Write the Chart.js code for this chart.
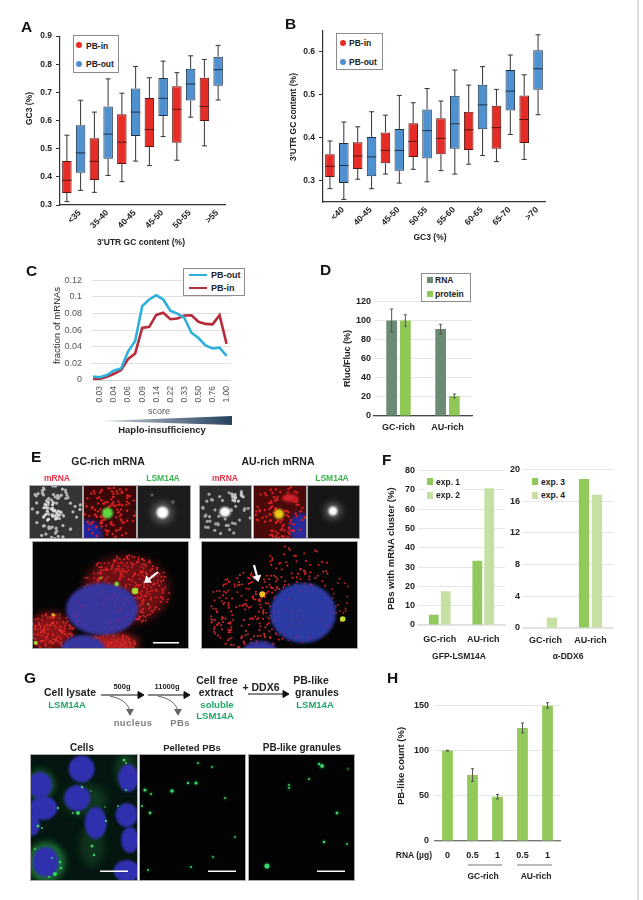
<!DOCTYPE html>
<html>
<head>
<meta charset="utf-8">
<title>Figure panels</title>
<script src="https://cdn.jsdelivr.net/npm/chart.js@4"></script>
<style>
  html, body { margin: 0; padding: 0; background: #fff; }
  #page { position: relative; width: 643px; height: 900px; overflow: hidden; font-family: "Liberation Sans", Arial, sans-serif; filter: blur(0.3px); }
  #page canvas, #page svg, .txt, .box { position: absolute; }
  .txt { white-space: nowrap; line-height: 1; }
  .box { box-sizing: border-box; }
</style>
</head>
<body>
<div id="page">
  <canvas id="micro" width="643" height="900" style="left:0;top:0"></canvas>
</div>
<script>
// panel A: [low whisker, q1, median, q3, high whisker]
const catsA = ['<35', '35-40', '40-45', '45-50', '50-55', '>55']
const inA = [
  [0.312, 0.343, 0.388, 0.456, 0.548],
  [0.345, 0.389, 0.455, 0.537, 0.630],
  [0.383, 0.446, 0.523, 0.622, 0.697],
  [0.440, 0.506, 0.568, 0.680, 0.752],
  [0.459, 0.521, 0.640, 0.722, 0.770],
  [0.510, 0.598, 0.650, 0.752, 0.817]
]
const outA = [
  [0.352, 0.415, 0.485, 0.583, 0.672],
  [0.405, 0.464, 0.552, 0.650, 0.748],
  [0.456, 0.545, 0.630, 0.714, 0.792],
  [0.543, 0.616, 0.679, 0.751, 0.811],
  [0.612, 0.671, 0.730, 0.784, 0.830],
  [0.673, 0.724, 0.781, 0.827, 0.867]
]
const ticksA = [0.3, 0.4, 0.5, 0.6, 0.7, 0.8, 0.9]

// panel B
const catsB = ['<40', '40-45', '45-50', '50-55', '55-60', '60-65', '65-70', '>70']
const inB = [
  [0.281, 0.308, 0.333, 0.361, 0.392],
  [0.303, 0.327, 0.357, 0.389, 0.425],
  [0.315, 0.340, 0.370, 0.412, 0.452],
  [0.326, 0.355, 0.391, 0.433, 0.481],
  [0.323, 0.361, 0.398, 0.445, 0.485],
  [0.338, 0.371, 0.418, 0.460, 0.522],
  [0.344, 0.374, 0.423, 0.474, 0.512],
  [0.349, 0.387, 0.442, 0.498, 0.546]
]
const outB = [
  [0.256, 0.294, 0.335, 0.387, 0.436],
  [0.281, 0.310, 0.355, 0.401, 0.460],
  [0.294, 0.323, 0.370, 0.420, 0.498],
  [0.297, 0.351, 0.416, 0.465, 0.514],
  [0.315, 0.374, 0.432, 0.497, 0.557],
  [0.358, 0.419, 0.476, 0.523, 0.565],
  [0.407, 0.463, 0.508, 0.557, 0.592],
  [0.453, 0.511, 0.560, 0.603, 0.639]
]
const ticksB = [0.3, 0.4, 0.5, 0.6]

// panel C: only every second point carries a label
const scoreLabels = ['', '0.03', '', '0.04', '', '0.06', '', '0.09', '', '0.14', '', '0.22', '', '0.33', '', '0.50', '', '0.76', '', '1.00']
const pbOutC = [0.0041, 0.0033, 0.006, 0.0115, 0.014, 0.0345, 0.047, 0.089, 0.097, 0.102, 0.097, 0.0836, 0.08, 0.0747, 0.057, 0.0505, 0.0416, 0.038, 0.039, 0.029]
const pbInC = [0.0015, 0.0015, 0.004, 0.0075, 0.012, 0.0253, 0.032, 0.0628, 0.064, 0.0784, 0.081, 0.0732, 0.074, 0.0777, 0.078, 0.0702, 0.0676, 0.067, 0.078, 0.0435]
const ticksC = [0, 0.02, 0.04, 0.06, 0.08, 0.1, 0.12]

// panel D
const catsD = ['GC-rich', 'AU-rich']
const rnaD = [100, 91]
const rnaErrD = [12, 5]
const proteinD = [100, 21]
const proteinErrD = [6, 2]

// panel F
const catsF = ['GC-rich', 'AU-rich']
const exp1 = [5.3, 33.3]
const exp2 = [17.5, 70.7]
const exp3 = [null, 18.8]
const exp4 = [1.3, 16.8]

// panel H
const catsH = ['0', '0.5', '1', '0.5', '1']
const countH = [100, 73, 49, 125, 150]
const countErrH = [0.5, 7, 2.5, 5.5, 3]

const RED = '#e52c26'
const BLUE = '#4f90cf'
const DARK = '#222'
const GREEN = '#20a868'
const page = document.getElementById('page')

Chart.defaults.animation = false
Chart.defaults.responsive = false
Chart.defaults.font.family = '"Liberation Sans", Arial, sans-serif'
Chart.defaults.plugins.legend.display = false
Chart.defaults.plugins.tooltip.enabled = false

function text(str, x, y, opts = {}) {
  const el = document.createElement('div')
  el.className = 'txt'
  el.textContent = str
  el.style.left = x + 'px'
  el.style.top = y + 'px'
  el.style.fontSize = (opts.size || 9) + 'px'
  el.style.fontWeight = opts.weight || 'bold'
  el.style.color = opts.color || DARK
  if (opts.spacing) el.style.letterSpacing = opts.spacing + 'px'
  const shiftX = opts.align === 'left' ? '0' : opts.align === 'right' ? '-100%' : '-50%'
  el.style.transform = `translate(${shiftX}, -50%)`
  page.appendChild(el)
  // vertical axis titles read bottom to top, snapped to whole pixels
  if (opts.vertical) {
    el.style.writingMode = 'vertical-rl'
    el.style.transform = 'rotate(180deg)'
    const box = el.getBoundingClientRect()
    const w = Math.ceil(box.width)
    const h = Math.ceil(box.height)
    el.style.width = w + 'px'
    el.style.height = h + 'px'
    el.style.left = Math.round(x - w / 2) + 'px'
    el.style.top = Math.round(y - h / 2) + 'px'
  }
}

function rect(x, y, w, h, css) {
  const el = document.createElement('div')
  el.className = 'box'
  el.style.cssText = `left:${x}px;top:${y}px;width:${w}px;height:${h}px;${css}`
  page.appendChild(el)
  return el
}

// canvas sized so the plot area lands on the given box
function panel(area, config) {
  const padTop = 8
  const padRight = 7
  const canvas = document.createElement('canvas')
  canvas.width = area.r - area.l + area.yw + padRight
  canvas.height = area.b - area.t + padTop + area.xh
  canvas.style.left = (area.l - area.yw) + 'px'
  canvas.style.top = (area.t - padTop) + 'px'
  page.appendChild(canvas)
  config.options.layout = { padding: { top: padTop, right: padRight } }
  config.options.scales.x.afterFit = s => { s.height = area.xh }
  config.options.scales.y.afterFit = s => { s.width = area.yw }
  return new Chart(canvas, config)
}

const whiskers = {
  id: 'whiskers',
  afterDatasetsDraw(chart) {
    const { ctx, scales: { y } } = chart
    chart.data.datasets.forEach((ds, di) => {
      chart.getDatasetMeta(di).data.forEach((bar, i) => {
        const [low, q1, med, q3, high] = ds.stats[i]
        const half = bar.width / 2
        ctx.save()
        ctx.strokeStyle = '#333'
        ctx.lineWidth = 1
        ctx.beginPath()
        ctx.moveTo(bar.x, y.getPixelForValue(q3))
        ctx.lineTo(bar.x, y.getPixelForValue(high))
        ctx.moveTo(bar.x - 2.5, y.getPixelForValue(high))
        ctx.lineTo(bar.x + 2.5, y.getPixelForValue(high))
        ctx.moveTo(bar.x, y.getPixelForValue(q1))
        ctx.lineTo(bar.x, y.getPixelForValue(low))
        ctx.moveTo(bar.x - 2.5, y.getPixelForValue(low))
        ctx.lineTo(bar.x + 2.5, y.getPixelForValue(low))
        ctx.stroke()
        ctx.strokeStyle = ds.borderColor
        ctx.beginPath()
        ctx.moveTo(bar.x - half, y.getPixelForValue(med))
        ctx.lineTo(bar.x + half, y.getPixelForValue(med))
        ctx.stroke()
        ctx.restore()
      })
    })
  }
}

const errorBars = {
  id: 'errorBars',
  afterDatasetsDraw(chart) {
    const { ctx, scales: { y } } = chart
    chart.data.datasets.forEach((ds, di) => {
      if (!ds.errors) return
      chart.getDatasetMeta(di).data.forEach((bar, i) => {
        const top = y.getPixelForValue(ds.data[i] + ds.errors[i])
        const bottom = y.getPixelForValue(ds.data[i] - ds.errors[i])
        ctx.save()
        ctx.strokeStyle = '#555'
        ctx.lineWidth = 1
        ctx.beginPath()
        ctx.moveTo(bar.x, top)
        ctx.lineTo(bar.x, bottom)
        ctx.moveTo(bar.x - 1.5, top)
        ctx.lineTo(bar.x + 1.5, top)
        ctx.moveTo(bar.x - 1.5, bottom)
        ctx.lineTo(bar.x + 1.5, bottom)
        ctx.stroke()
        ctx.restore()
      })
    })
  }
}

function boxDataset(label, stats, color, border) {
  return {
    label, stats,
    data: stats.map(s => [s[1], s[3]]),
    backgroundColor: color,
    borderColor: border,
    borderWidth: 1,
    borderSkipped: false,
    categoryPercentage: 1,
    barPercentage: 0.69
  }
}

function boxChart(area, cats, inStats, outStats, yMin, yMax, yTicks, labelOffset) {
  return panel(area, {
    type: 'bar',
    data: {
      labels: cats,
      datasets: [boxDataset('PB-in', inStats, RED, '#5a1510'), boxDataset('PB-out', outStats, BLUE, '#1c3248')]
    },
    plugins: [whiskers],
    options: {
      scales: {
        x: {
          grid: { display: false, drawTicks: false },
          border: { color: '#333', width: 1.2 },
          ticks: { minRotation: 45, maxRotation: 45, autoSkip: false, padding: 3, labelOffset, color: DARK, font: { size: 8.5, weight: 'bold' } }
        },
        y: {
          min: yMin, max: yMax,
          afterBuildTicks: s => { s.ticks = yTicks.map(value => ({ value })) },
          grid: { drawOnChartArea: false, tickLength: 4, color: '#333' },
          border: { color: '#333', width: 1.2 },
          ticks: { padding: 4, color: DARK, font: { size: 8.5, weight: 'bold' }, callback: v => v.toFixed(1) }
        }
      }
    }
  })
}

function barDataset(label, data, color, catPct, barPct, errors) {
  return { label, data, errors, backgroundColor: color, categoryPercentage: catPct, barPercentage: barPct }
}

function barChart(area, cats, datasets, yMax, yTicks, yPad, xPad, axisColor) {
  return panel(area, {
    type: 'bar',
    data: { labels: cats, datasets },
    plugins: [errorBars],
    options: {
      scales: {
        x: {
          grid: { display: false, drawTicks: false },
          border: { color: axisColor, width: 1.2 },
          ticks: { padding: xPad, maxRotation: 0, autoSkip: false, color: DARK, font: { size: 9, weight: 'bold' } }
        },
        y: {
          min: 0, max: yMax,
          afterBuildTicks: s => { s.ticks = yTicks.map(value => ({ value })) },
          grid: { color: '#e6e6e6', drawTicks: false },
          border: { display: false },
          ticks: { padding: yPad, color: DARK, font: { size: 9, weight: 'bold' } }
        }
      }
    }
  })
}

// ---- A
boxChart({ l: 60, r: 225, t: 35, b: 205, yw: 24, xh: 28 }, catsA, inA, outA, 0.3, 0.9, ticksA, 6)
text('GC3 (%)', 29, 108, { size: 8.5, vertical: true })
text("3'UTR GC content (%)", 141, 242, { size: 8.5 })
rect(73, 35, 46, 38, 'border:1px solid #8c8c8c;background:#fff')
rect(76, 42, 6, 6, `background:${RED};border-radius:50%`)
rect(76, 61, 6, 6, `background:${BLUE};border-radius:50%`)
text('PB-in', 86, 45.5, { align: 'left', size: 8.5 })
text('PB-out', 86, 64, { align: 'left', size: 8.5 })

// ---- B
boxChart({ l: 323, r: 545, t: 29, b: 202, yw: 24, xh: 26 }, catsB, inB, outB, 0.25, 0.65, ticksB, 6)
text("3'UTR GC content (%)", 293, 117, { size: 8.5, vertical: true })
text('GC3 (%)', 430, 237, { size: 8.5 })
rect(336, 33, 47, 37, 'border:1px solid #8c8c8c;background:#fff')
rect(340, 40, 6, 6, `background:${RED};border-radius:50%`)
rect(340, 59, 6, 6, `background:${BLUE};border-radius:50%`)
text('PB-in', 349, 43, { align: 'left', size: 8.5 })
text('PB-out', 349, 62, { align: 'left', size: 8.5 })

// ---- C
panel({ l: 92, r: 236, t: 273, b: 380, yw: 32, xh: 24 }, {
  type: 'line',
  data: {
    datasets: [
      { label: 'PB-out', data: pbOutC.map((y, x) => ({ x, y })), borderColor: '#2db0dc', borderWidth: 2.6, pointRadius: 0 },
      { label: 'PB-in', data: pbInC.map((y, x) => ({ x, y })), borderColor: '#b62c3a', borderWidth: 2.6, pointRadius: 0 }
    ]
  },
  options: {
    scales: {
      x: {
        type: 'linear', min: -0.14, max: 19.59,
        afterBuildTicks: s => { s.ticks = scoreLabels.map((l, value) => ({ value, l })).filter(t => t.l).map(t => ({ value: t.value })) },
        grid: { display: false, drawTicks: false },
        border: { color: '#d0d0d0' },
        ticks: { minRotation: 90, maxRotation: 90, autoSkip: false, padding: 6, color: '#555', font: { size: 8.5 }, callback: v => scoreLabels[v] }
      },
      y: {
        min: 0, max: 0.12,
        afterBuildTicks: s => { s.ticks = ticksC.map(value => ({ value })) },
        grid: { color: '#dfdfdf', drawTicks: false },
        border: { display: false },
        ticks: { padding: 10, color: '#555', font: { size: 9 }, callback: v => String(v) }
      }
    }
  }
})
text('fraction of mRNAs', 57, 325, { size: 9.5, weight: 'normal', color: '#222', vertical: true })
text('score', 159, 411, { size: 9, weight: 'normal', color: '#555' })
rect(101, 416, 131, 9, 'background:linear-gradient(90deg,#c9d0d8,#26415c);clip-path:polygon(0 55%,100% 0,100% 100%)')
text('Haplo-insufficiency', 162, 430, { size: 9.5 })
rect(183, 268, 62, 28, 'border:1px solid #8c8c8c;background:#fff')
rect(189, 274, 18, 2.4, 'background:#2db0dc')
rect(189, 287, 18, 2.4, 'background:#b62c3a')
text('PB-out', 211, 275, { align: 'left', size: 9 })
text('PB-in', 211, 288, { align: 'left', size: 9 })

// ---- D
barChart({ l: 374, r: 472, t: 301, b: 416, yw: 24, xh: 20 }, catsD, [
  barDataset('RNA', rnaD, '#6c8b75', 0.56, 0.78, rnaErrD),
  barDataset('protein', proteinD, '#8fc856', 0.56, 0.78, proteinErrD)
], 120, [0, 20, 40, 60, 80, 100, 120], 3, 6, '#444')
text('Rluc/Fluc (%)', 347, 358, { size: 9, vertical: true })
rect(421, 273, 50, 29, 'border:1px solid #8c8c8c;background:#fff')
rect(427, 277, 6, 6, 'background:#6c8b75')
rect(427, 291, 6, 6, 'background:#8fc856')
text('RNA', 435, 280, { align: 'left', size: 8.5 })
text('protein', 435, 294, { align: 'left', size: 8.5 })

// ---- E labels
text('GC-rich mRNA', 108, 461, { size: 10.5 })
text('AU-rich mRNA', 278, 461, { size: 10.5 })
text('mRNA', 57, 478, { size: 8.5, color: '#e8324a' })
text('LSM14A', 163, 478, { size: 8.5, color: '#3ab54a' })
text('mRNA', 225, 478, { size: 8.5, color: '#e8324a' })
text('LSM14A', 332, 478, { size: 8.5, color: '#3ab54a' })

// ---- F
barChart({ l: 418, r: 505, t: 470, b: 625, yw: 24, xh: 22 }, catsF, [
  barDataset('exp. 1', exp1, '#92c95c', 0.547, 0.82),
  barDataset('exp. 2', exp2, '#c6dfa2', 0.547, 0.82)
], 80, [0, 10, 20, 30, 40, 50, 60, 70, 80], 3, 9, '#e0e0e0')
barChart({ l: 523, r: 613, t: 469, b: 628, yw: 24, xh: 20 }, catsF, [
  barDataset('exp. 3', exp3, '#92c95c', 0.573, 0.8),
  barDataset('exp. 4', exp4, '#c6dfa2', 0.573, 0.8)
], 20, [0, 4, 8, 12, 16, 20], 3, 7, '#e0e0e0')
text('PBs with mRNA cluster (%)', 391, 548, { size: 9.5, vertical: true })
rect(426, 476, 38, 24, 'background:#fff')
rect(427, 478, 6, 6.5, 'background:#92c95c')
rect(427, 492, 6, 6.5, 'background:#c6dfa2')
text('exp. 1', 436, 482, { align: 'left', size: 8.5 })
text('exp. 2', 436, 495, { align: 'left', size: 8.5 })
rect(531, 476, 38, 24, 'background:#fff')
rect(532, 478, 6, 6.5, 'background:#92c95c')
rect(532, 492, 6, 6.5, 'background:#c6dfa2')
text('exp. 3', 541, 482, { align: 'left', size: 8.5 })
text('exp. 4', 541, 495, { align: 'left', size: 8.5 })
text('GFP-LSM14A', 459, 656, { size: 8.5 })
text('\u03b1-DDX6', 568, 656, { size: 8.5 })

// ---- G flow diagram
const flow = [
  ['Cell lysate', 70, 692, DARK], ['LSM14A', 67, 705, GREEN],
  ['Cell free', 217, 680, DARK], ['extract', 216, 692, DARK], ['soluble', 217, 705, GREEN], ['LSM14A', 215, 716, GREEN],
  ['PB-like', 311, 680, DARK], ['granules', 317, 692, DARK], ['LSM14A', 315, 705, GREEN]
]
flow.forEach(([s, x, y, color]) => text(s, x, y, { size: color === DARK ? 10.5 : 9.5, color }))
text('500g', 122, 687, { size: 7.5 })
text('11000g', 167, 687, { size: 7.5 })
text('+ DDX6', 261, 687, { size: 10.5 })
text('nucleus', 133, 723, { size: 9.5, color: '#808080', spacing: 0.4 })
text('PBs', 180, 723, { size: 9.5, color: '#808080', spacing: 0.4 })
text('Cells', 82, 748, { size: 10 })
text('Pelleted PBs', 192, 748, { size: 9.5 })
text('PB-like granules', 302, 748, { size: 10 })

page.insertAdjacentHTML('beforeend', `
<svg width="643" height="900" style="left:0;top:0;pointer-events:none">
  <g stroke="#111" stroke-width="1" fill="#111">
    <path d="M101 695H138"/><path d="M138 691.5L144 695L138 698.5Z"/>
    <path d="M148 695H184"/><path d="M184 691.5L190 695L184 698.5Z"/>
    <path d="M248 694H283"/><path d="M283 690.5L289 694L283 697.5Z"/>
  </g>
  <g stroke="#666" stroke-width="1" fill="none">
    <path d="M110 696Q126 699 130 710"/><path d="M158 696Q174 699 178 710"/>
  </g>
  <g fill="#666"><path d="M126 709L134 709L130 716Z"/><path d="M174 709L182 709L178 716Z"/></g>
  <g stroke="#777" stroke-width="1.2"><path d="M468 865H502"/><path d="M517 865H552"/></g>
  <path d="M638 0V900" stroke="#bdbdbd" stroke-width="1"/>
</svg>`)

// ---- H
barChart({ l: 435, r: 560, t: 702, b: 841, yw: 30, xh: 20 }, catsH, [
  barDataset('PB-like count', countH, '#93c95a', 1, 0.43, countErrH)
], 150, [0, 50, 100, 150], 6, 9, '#777')
text('PB-like count (%)', 401, 765, { size: 9.5, vertical: true })
text('RNA (\u00b5g)', 432, 855, { align: 'right', size: 8.5 })
text('GC-rich', 483, 876, { size: 8.5 })
text('AU-rich', 536, 876, { size: 8.5 })

// ---- panel letters
const letters = [['A', 21, 27], ['B', 285, 24], ['C', 26, 271], ['D', 320, 270], ['E', 31, 457], ['F', 382, 460], ['G', 24, 678], ['H', 387, 678]]
letters.forEach(([s, x, y]) => text(s, x, y, { size: 15.5, align: 'left', color: '#111' }))

// ---- microscopy photos, only a rough texture behind the charts
const mc = document.getElementById('micro').getContext('2d')
let seed = 4711
const noise = () => (seed = (seed * 16807) % 2147483647) / 2147483647

function blob(x, y, rx, ry, color) {
  mc.save()
  mc.fillStyle = color
  mc.beginPath()
  mc.ellipse(x, y, rx, ry, 0, 0, Math.PI * 2)
  mc.fill()
  mc.restore()
}

function speckle(x, y, rx, ry, n, color, r) {
  for (let i = 0; i < n; i++) {
    const a = noise() * Math.PI * 2
    const d = Math.sqrt(noise())
    blob(x + Math.cos(a) * d * rx, y + Math.sin(a) * d * ry, r, r, color)
  }
}

function photo(x, y, w, h, bg, paint) {
  mc.save()
  mc.beginPath()
  mc.rect(x, y, w, h)
  mc.clip()
  mc.fillStyle = bg
  mc.fillRect(x, y, w, h)
  mc.filter = 'blur(0.7px)'
  paint()
  mc.restore()
  mc.strokeStyle = '#aaa'
  mc.strokeRect(x - 0.5, y - 0.5, w + 1, h + 1)
}

function soft(x, y, rx, ry, color, px) {
  mc.save()
  mc.filter = `blur(${px}px)`
  blob(x, y, rx, ry, color)
  mc.restore()
}

function bar(x, y, w) {
  mc.save()
  mc.filter = 'none'
  mc.fillStyle = '#fff'
  mc.fillRect(x, y, w, 1.5)
  mc.restore()
}

function arrow(x0, y0, x1, y1) {
  const a = Math.atan2(y1 - y0, x1 - x0)
  mc.save()
  mc.filter = 'none'
  mc.strokeStyle = '#fff'
  mc.fillStyle = '#fff'
  mc.lineWidth = 2.2
  mc.beginPath()
  mc.moveTo(x0, y0)
  mc.lineTo(x1 - Math.cos(a) * 4, y1 - Math.sin(a) * 4)
  mc.stroke()
  mc.beginPath()
  mc.moveTo(x1, y1)
  mc.lineTo(x1 - Math.cos(a - 0.6) * 8, y1 - Math.sin(a - 0.6) * 8)
  mc.lineTo(x1 - Math.cos(a + 0.6) * 8, y1 - Math.sin(a + 0.6) * 8)
  mc.fill()
  mc.restore()
}

// E top row
photo(30, 486, 52, 52, '#343434', () => {
  speckle(55, 512, 27, 27, 70, '#b4b4b4', 1.6)
  speckle(52, 512, 9, 12, 28, '#d8d8d8', 1.6)
})
photo(84, 486, 52, 52, '#3a0808', () => {
  soft(88, 534, 14, 14, '#24249a', 2)
  speckle(110, 512, 28, 28, 130, '#d42020', 1.2)
  soft(107.5, 513, 5.5, 5.5, '#5cd840', 0.8)
})
photo(138, 486, 52, 52, '#1c1c1c', () => {
  soft(162.5, 512.5, 11, 11, '#555', 3)
  soft(162.5, 512.5, 6, 6, '#fff', 1)
  soft(152, 495, 1.5, 1.5, '#666', 0.5)
  soft(173, 502, 2, 2, '#555', 0.5)
})
photo(200, 486, 51, 52, '#2c2c2c', () => {
  speckle(226, 512, 26, 26, 40, '#a0a0a0', 1.6)
  speckle(237, 497, 7, 5, 16, '#c8c8c8', 1.6)
  soft(225, 512, 5.5, 5, '#fff', 1)
})
photo(254, 486, 52, 52, '#4a0a0a', () => {
  soft(301, 528, 12, 15, '#2a2a9a', 2)
  soft(290, 498, 8, 4, '#d02030', 1.5)
  speckle(280, 512, 27, 27, 100, '#d42020', 1.2)
  soft(279, 514, 5, 5, '#e8c818', 0.8)
})
photo(308, 486, 51, 52, '#161616', () => {
  soft(333, 511, 9, 9, '#555', 3)
  soft(333, 511, 4.5, 4.5, '#fff', 1)
})

// E large cells
photo(33, 542, 155, 106, '#050505', () => {
  soft(126, 590, 42, 33, '#6e1014', 5)
  soft(50, 632, 22, 19, '#8a1416', 4)
  soft(112, 644, 26, 11, '#b82020', 4)
  speckle(126, 590, 44, 35, 380, '#d82226', 1)
  speckle(50, 632, 24, 20, 150, '#e02a2a', 1)
  speckle(112, 644, 24, 10, 60, '#e02a2a', 1)
  soft(102, 609, 36, 26, '#36369e', 1.5)
  soft(83, 650, 22, 15, '#36369e', 1.5)
  speckle(102, 612, 32, 22, 40, '#8a2a90', 0.7)
  blob(135, 591, 3.3, 3.3, '#a8d830')
  blob(116.7, 584, 2.4, 2.4, '#80c030')
  blob(100.7, 578, 1.6, 1.6, '#80a030')
  blob(53.3, 615, 1.8, 1.8, '#e0b020')
  blob(35.7, 642.7, 2, 2, '#b0d040')
  blob(148.3, 604, 1.1, 1.1, '#80a030')
  arrow(158, 572, 144, 583)
  bar(153, 642, 26)
})
photo(202, 542, 155, 106, '#050505', () => {
  speckle(250, 612, 44, 40, 230, '#d42428', 1.05)
  speckle(297, 572, 32, 30, 80, '#d42428', 1.05)
  speckle(340, 600, 10, 25, 20, '#b02024', 1)
  soft(303, 613, 33, 30, '#2c3aa4', 1.5)
  soft(260, 651, 17, 10, '#36369e', 1.5)
  speckle(303, 613, 36, 32, 40, '#8a2a80', 0.7)
  blob(262.3, 594.3, 3, 3, '#f0c020')
  blob(342.7, 619, 2.8, 2.8, '#c0e030')
  arrow(254, 565, 258.5, 582)
})

// G photos, spot positions in px
const cellNuclei = [
  [81.7, 769, 13, 13.5], [128.3, 778, 10, 14], [40, 785, 12, 13], [77.3, 798, 13, 13], [43.3, 808, 14, 12],
  [126.7, 815, 11, 12], [95.7, 823, 11, 16], [130, 840, 9, 13], [32, 825, 8, 11], [45.7, 862, 13, 15], [126.7, 871, 13, 11]
]
const cellSpots = [
  [124, 760, 1.5], [126, 763, 1], [82, 787, 1.2], [91, 791, 0.8], [78, 813, 2], [73, 813, 1], [58, 808, 1.2], [105, 807, 0.8],
  [106, 821, 1.2], [92, 846, 1.5], [94, 855, 1.2], [38, 826, 1.5], [42, 828, 1], [52, 858, 1], [60, 862, 1.3], [61, 868, 1.3],
  [55, 874, 2], [49, 877, 1], [35, 849, 1], [126, 790, 1], [118, 806, 1]
]
const pelletSpots = [
  [145, 790, 1.6], [172, 791, 1.8], [196, 783, 1.6], [188, 783, 1.2], [150, 813, 1.4], [151, 794, 1.1], [198, 763, 1],
  [212, 767, 0.9], [225, 798, 1], [235, 837, 0.9], [148, 870, 1], [191, 867, 1], [213, 857, 0.9], [142, 806, 1]
]
const granuleSpots = [
  [322, 766, 2], [319, 764, 1.2], [309, 779, 1.1], [289, 785, 1], [289, 788, 1], [337, 813, 1.4], [324, 842, 1.3],
  [347, 844, 1], [267, 866, 2.6], [348, 769, 0.7]
]
const GREEN_SPOT = '#38d468'
function spotsOf(list) {
  list.forEach(([x, y, r]) => {
    soft(x, y, r + 1.2, r + 1.2, 'rgba(40,150,80,0.3)', 1)
    blob(x, y, r, r, GREEN_SPOT)
  })
}
photo(31, 755, 106, 125, '#04160f', () => {
  soft(46, 862, 19, 20, 'rgba(40,150,70,0.7)', 3)
  soft(40, 785, 15, 16, 'rgba(40,130,60,0.55)', 3)
  soft(85, 800, 22, 16, 'rgba(40,120,60,0.35)', 4)
  soft(92, 845, 12, 22, 'rgba(40,120,60,0.3)', 4)
  soft(126, 770, 11, 18, 'rgba(40,120,60,0.35)', 3)
  cellNuclei.forEach(([x, y, rx, ry]) => soft(x, y, rx, ry, '#3030ae', 1))
  cellSpots.forEach(([x, y, r]) => blob(x, y, r, r, GREEN_SPOT))
  bar(100, 870.5, 28)
})
photo(140, 755, 105, 125, '#020302', () => {
  spotsOf(pelletSpots)
  bar(208, 870.5, 28)
})
photo(249, 755, 105, 125, '#020302', () => {
  spotsOf(granuleSpots)
  bar(317, 870.5, 28)
})
</script>
</body>
</html>
